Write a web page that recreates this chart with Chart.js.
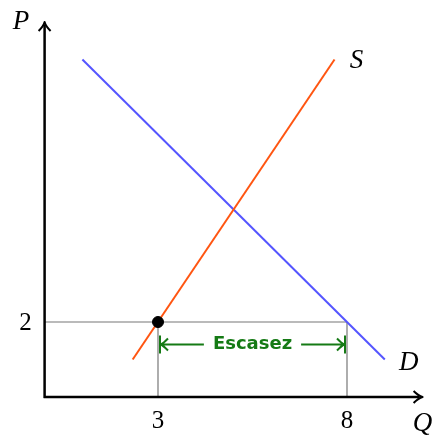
<!DOCTYPE html>
<html>
<head>
<meta charset="utf-8">
<script src="https://cdn.jsdelivr.net/npm/chart.js@4.4.1/dist/chart.umd.min.js"></script>
<style>
  html, body { margin: 0; padding: 0; background: #fff; }
  #wrap { width: 433px; height: 436px; }
</style>
</head>
<body>
<div id="wrap"><canvas id="chart" width="433" height="436"></canvas></div>
<script>
// data (Q on x, P on y)
const supplyQ = [2.33, 7.67];
const supplyP = [1, 9];
const demandQ = [1, 9];
const demandP = [9, 1];
const priceCeiling = 2;
const qSupplied = 3;
const qDemanded = 8;
const shortageY = 1.4;
const xTicks = [3, 8];
const yTicks = [2];

const toPts = (xs, ys) => xs.map((x, i) => ({ x: x, y: ys[i] }));

const serif = '"Liberation Serif", "DejaVu Serif", serif';

const overlay = {
  id: "overlay",
  afterDatasetsDraw(chart) {
    const ctx = chart.ctx;
    const xs = chart.scales.x;
    const ys = chart.scales.y;
    const x0 = xs.getPixelForValue(0);
    const y0 = ys.getPixelForValue(0);
    const xEnd = xs.getPixelForValue(10);
    const yEnd = ys.getPixelForValue(10);

    ctx.save();
    // axes
    ctx.strokeStyle = "#000";
    ctx.fillStyle = "#000";
    ctx.lineWidth = 2.5;
    ctx.beginPath();
    ctx.moveTo(x0 - 1, y0);
    ctx.lineTo(xEnd - 3, y0);
    ctx.moveTo(x0, y0 + 1);
    ctx.lineTo(x0, yEnd + 3);
    ctx.stroke();
    // arrow heads
    ctx.lineWidth = 2;
    ctx.lineJoin = "round";
    ctx.beginPath();
    ctx.moveTo(xEnd - 9, y0 - 6);
    ctx.quadraticCurveTo(xEnd - 4, y0 - 1, xEnd, y0);
    ctx.quadraticCurveTo(xEnd - 4, y0 + 1, xEnd - 9, y0 + 6);
    ctx.moveTo(x0 - 6, yEnd + 9);
    ctx.quadraticCurveTo(x0 - 1, yEnd + 4, x0, yEnd);
    ctx.quadraticCurveTo(x0 + 1, yEnd + 4, x0 + 6, yEnd + 9);
    ctx.stroke();

    // tick labels
    ctx.font = "25px " + serif;
    ctx.textAlign = "center";
    ctx.textBaseline = "middle";
    xTicks.forEach(v => ctx.fillText(String(v), xs.getPixelForValue(v), y0 + 24));
    yTicks.forEach(v => ctx.fillText(String(v), x0 - 19, ys.getPixelForValue(v) + 1));

    // axis and curve names
    ctx.font = "italic 27px " + serif;
    ctx.fillText("P", 21, yEnd);
    ctx.fillText("Q", xEnd, y0 + 27);
    ctx.fillText("S", xs.getPixelForValue(supplyQ[1]) + 22, ys.getPixelForValue(supplyP[1]) + 1);
    ctx.fillText("D", xs.getPixelForValue(demandQ[1]) + 24, ys.getPixelForValue(demandP[1]) + 3);

    // shortage arrow
    const a = xs.getPixelForValue(qSupplied);
    const b = xs.getPixelForValue(qDemanded);
    const ay = ys.getPixelForValue(shortageY);
    const green = "#157a15";
    ctx.strokeStyle = green;
    ctx.fillStyle = green;
    ctx.lineWidth = 2;
    ctx.font = "bold 18px \"DejaVu Sans\", sans-serif";
    const label = "Escasez";
    const mid = (a + b) / 2;
    const half = ctx.measureText(label).width / 2 + 9;
    ctx.beginPath();
    ctx.moveTo(a + 2, ay - 9);
    ctx.lineTo(a + 2, ay + 9);
    ctx.moveTo(b - 2, ay - 9);
    ctx.lineTo(b - 2, ay + 9);
    ctx.moveTo(a + 3, ay);
    ctx.lineTo(mid - half, ay);
    ctx.moveTo(mid + half, ay);
    ctx.lineTo(b - 3, ay);
    // heads
    ctx.moveTo(a + 10, ay - 6);
    ctx.quadraticCurveTo(a + 5, ay - 1, a + 3, ay);
    ctx.quadraticCurveTo(a + 5, ay + 1, a + 10, ay + 6);
    ctx.moveTo(b - 10, ay - 6);
    ctx.quadraticCurveTo(b - 5, ay - 1, b - 3, ay);
    ctx.quadraticCurveTo(b - 5, ay + 1, b - 10, ay + 6);
    ctx.stroke();
    ctx.fillText(label, mid, ay);
    ctx.restore();
  }
};

new Chart(document.getElementById("chart").getContext("2d"), {
  type: "scatter",
  data: {
    datasets: [
      {
        label: "punto",
        data: toPts([qSupplied], [priceCeiling]),
        backgroundColor: "#000",
        borderColor: "#000",
        pointRadius: 5.5,
      },
      {
        label: "S",
        data: toPts(supplyQ, supplyP),
        showLine: true,
        borderColor: "#ff5511",
        borderWidth: 2,
        pointRadius: 0,
      },
      {
        label: "D",
        data: toPts(demandQ, demandP),
        showLine: true,
        borderColor: "#5555ff",
        borderWidth: 2,
        pointRadius: 0,
      },
      {
        label: "techo",
        data: toPts([0, qDemanded], [priceCeiling, priceCeiling]),
        showLine: true,
        borderColor: "#777",
        borderWidth: 1.2,
        pointRadius: 0,
      },
      {
        label: "Qs",
        data: toPts([qSupplied, qSupplied], [0, priceCeiling]),
        showLine: true,
        borderColor: "#777",
        borderWidth: 1.2,
        pointRadius: 0,
      },
      {
        label: "Qd",
        data: toPts([qDemanded, qDemanded], [0, priceCeiling]),
        showLine: true,
        borderColor: "#777",
        borderWidth: 1.2,
        pointRadius: 0,
      },
    ],
  },
  options: {
    responsive: false,
    animation: false,
    layout: { padding: { left: 44.6, right: 10.4, top: 22, bottom: 39 } },
    plugins: { legend: { display: false }, tooltip: { enabled: false } },
    scales: {
      x: { type: "linear", min: 0, max: 10, display: false },
      y: { type: "linear", min: 0, max: 10, display: false },
    },
  },
  plugins: [overlay],
});
</script>
</body>
</html>
